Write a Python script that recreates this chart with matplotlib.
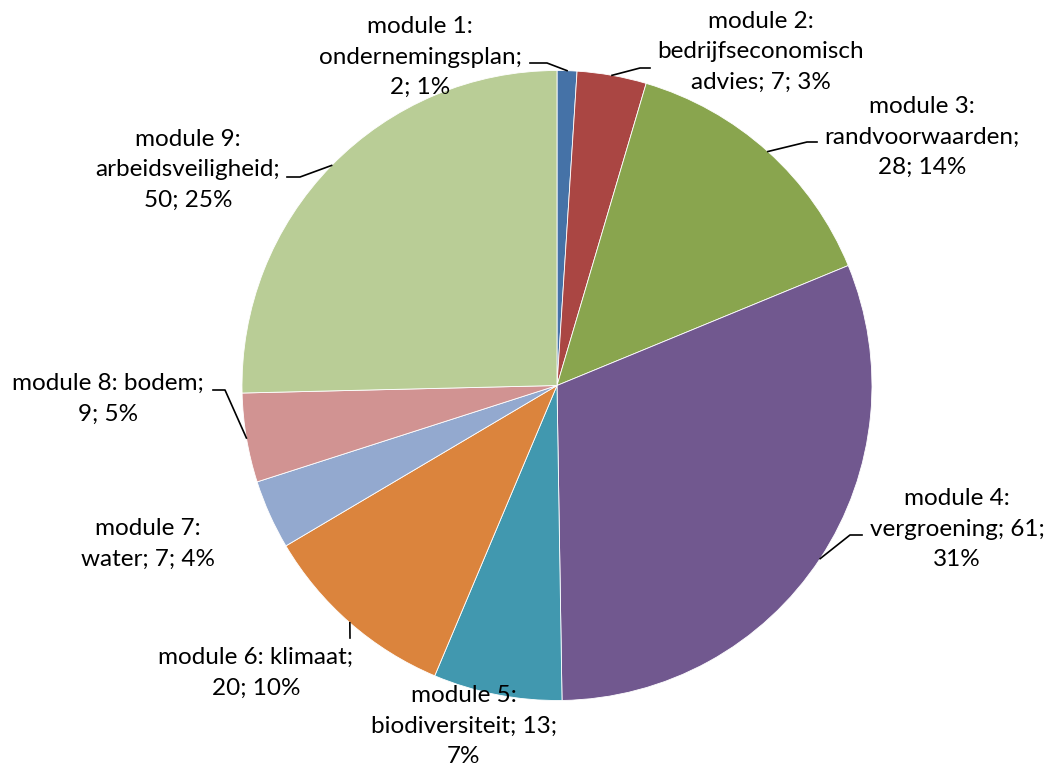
import matplotlib.pyplot as plt
import numpy as np

# data
values = [2, 7, 28, 61, 13, 20, 7, 9, 50]
colors = ['#4572A7', '#AA4643', '#89A54E', '#71588F', '#4198AF',
          '#DB843D', '#93A9CF', '#D19392', '#B9CD96']

# full label text, line breaks as in the picture
label_texts = ['module 1:\nondernemingsplan;\n2; 1%',
               'module 2:\nbedrijfseconomisch\nadvies; 7; 3%',
               'module 3:\nrandvoorwaarden;\n28; 14%',
               'module 4:\nvergroening; 61;\n31%',
               'module 5:\nbiodiversiteit; 13;\n7%',
               'module 6: klimaat;\n20; 10%',
               'module 7:\nwater; 7; 4%',
               'module 8: bodem;\n9; 5%',
               'module 9:\narbeidsveiligheid;\n50; 25%']

# layout (pixel coords, y from top)
W, H = 1047, 771
cx, cy, R = 557, 385.5, 315
label_pos = [(420, 57), (761, 52), (922, 137), (957, 529), (464, 726),
             (256, 673), (148, 544), (108, 399), (188, 170)]
leader_start = [(530, 63), (650, 68), (817, 142), (862, 535), None,
                (350, 638), None, (213, 390), (287, 177)]
leader_elbow = [(547, 63), (640, 68), (807, 142), (850, 535), None,
                None, None, (225, 390), (300, 177)]

fig = plt.figure(figsize=(W / 100, H / 100), dpi=100)
ax = fig.add_axes([0, 0, 1, 1])

ax.pie(values, colors=colors, startangle=90, counterclock=False,
       center=(cx, H - cy), radius=R, frame=True,
       wedgeprops=dict(edgecolor='white', linewidth=0.6))
ax.set_xlim(0, W)
ax.set_ylim(0, H)
ax.set_aspect('equal')
ax.axis('off')

for txt, (x, y) in zip(label_texts, label_pos):
    ax.text(x, H - y, txt, ha='center', va='center', fontsize=17.5,
            family='Lato', color='black', linespacing=1.55)

# leader lines to the middle of each wedge's outer edge
cum = np.cumsum(values) - np.array(values) / 2
mid = np.deg2rad(cum / sum(values) * 360)
for i, st in enumerate(leader_start):
    if st is None:
        continue
    ex = cx + R * np.sin(mid[i])
    ey = cy - R * np.cos(mid[i])
    pts = [st]
    if leader_elbow[i] is not None:
        pts.append(leader_elbow[i])
    pts.append((ex, ey))
    xs = [p[0] for p in pts]
    ys = [H - p[1] for p in pts]
    ax.plot(xs, ys, color='black', lw=1.2)

fig.savefig('out.png', dpi=100)
